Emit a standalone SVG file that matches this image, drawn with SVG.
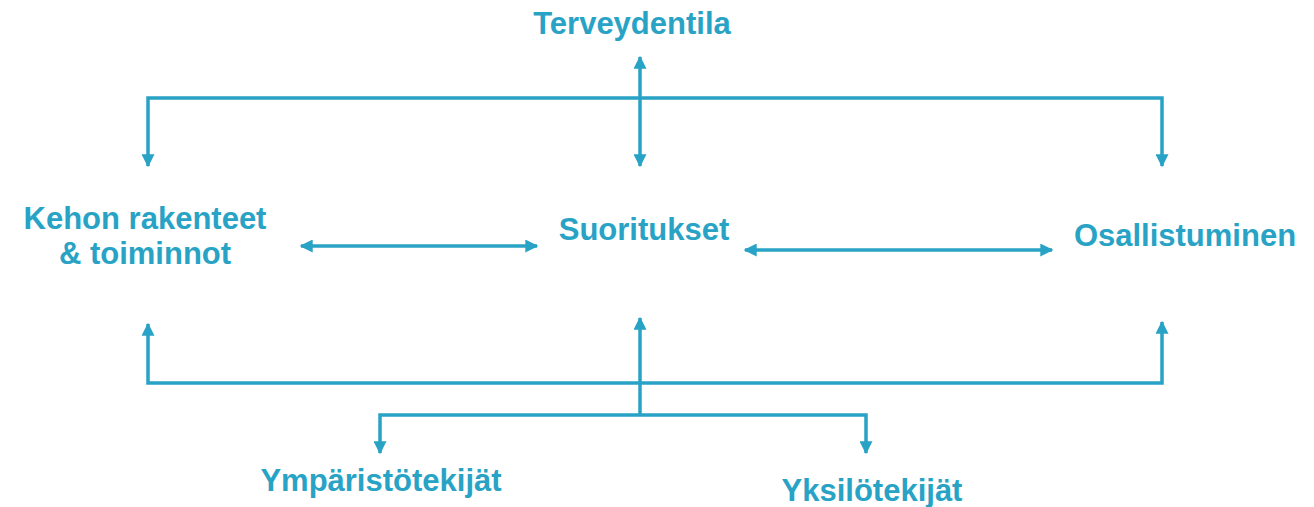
<svg xmlns="http://www.w3.org/2000/svg" width="1314" height="507" viewBox="0 0 1314 507">
<style>
.lbl{font-family:"Liberation Sans",Arial,sans-serif;font-weight:bold;font-size:31px;fill:#28A3C5;text-anchor:middle}
.ln{stroke:#28A3C5;stroke-width:3.5;fill:none}
</style>
<defs>
<marker id="ah" viewBox="0 0 10 10" refX="9" refY="5" markerWidth="13" markerHeight="13" markerUnits="userSpaceOnUse" orient="auto-start-reverse">
<path d="M0,0 L10,5 L0,10 Z" fill="#28A3C5"/>
</marker>
</defs>
<rect width="1314" height="507" fill="#ffffff"/>
<g id="connectors">
<path class="ln" d="M148,166 V98 H1162 V166" marker-start="url(#ah)" marker-end="url(#ah)"/>
<path class="ln" d="M640,57 V166" marker-start="url(#ah)" marker-end="url(#ah)"/>
<path class="ln" d="M301,246 H537" marker-start="url(#ah)" marker-end="url(#ah)"/>
<path class="ln" d="M745,250 H1052" marker-start="url(#ah)" marker-end="url(#ah)"/>
<path class="ln" d="M148,324 V383 H1162 V322" marker-start="url(#ah)" marker-end="url(#ah)"/>
<path class="ln" d="M640,415 V318" marker-end="url(#ah)"/>
<path class="ln" d="M380,453 V415 H866 V453" marker-start="url(#ah)" marker-end="url(#ah)"/>
</g>
<g id="terveydentila"><text class="lbl" x="632" y="34">Terveydentila</text></g>
<g id="kehon"><text class="lbl" x="145" y="229">Kehon rakenteet</text><text class="lbl" x="145" y="264">&amp; toiminnot</text></g>
<g id="suoritukset"><text class="lbl" x="644" y="240">Suoritukset</text></g>
<g id="osallistuminen"><text class="lbl" x="1185" y="246">Osallistuminen</text></g>
<g id="ymparisto"><text class="lbl" x="381" y="491">Ympäristötekijät</text></g>
<g id="yksilo"><text class="lbl" x="872" y="501">Yksilötekijät</text></g>
</svg>
